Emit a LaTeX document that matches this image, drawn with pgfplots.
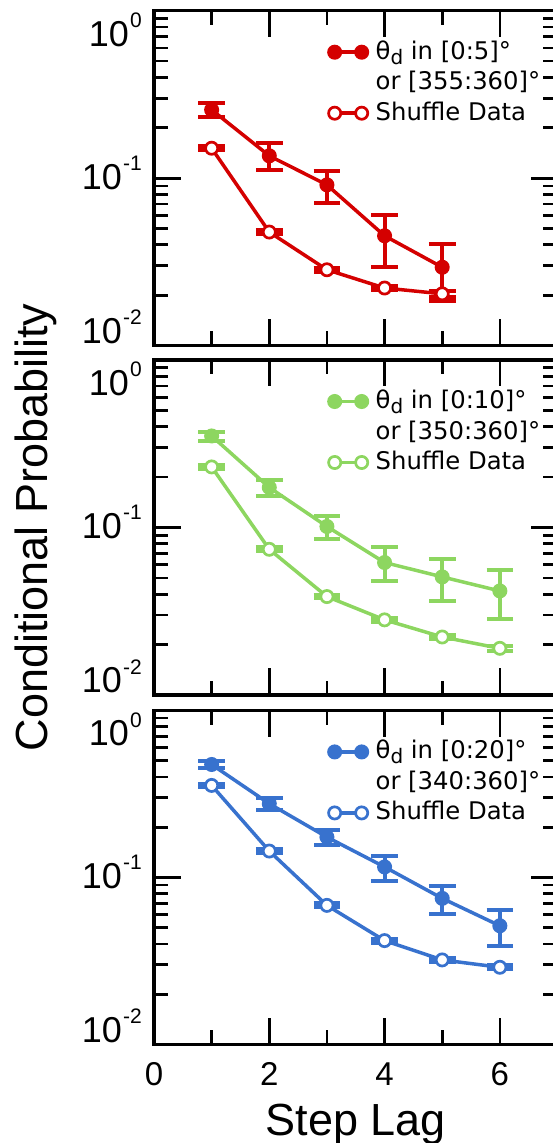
\documentclass[border=0pt]{standalone}
\usepackage{fontspec}
\setmainfont{Liberation Sans}
\newfontfamily\dejavu{DejaVu Sans}
\usepackage{pgfplots}
\pgfplotsset{compat=1.18}

\definecolor{cred}{RGB}{212,0,0}
\definecolor{cgreen}{RGB}{141,214,96}
\definecolor{cblue}{RGB}{56,114,206}

\newcommand{\tp}[1]{10\hspace{1.2bp}\raisebox{0.52em}{\fontsize{21bp}{21bp}\selectfont #1}}
\newcommand{\thd}{θ\raisebox{-0.2em}{\fontsize{20bp}{20bp}\selectfont d}}

\pgfplotsset{every axis/.append style={
    scale only axis, width=403.5bp,
    xmin=0, xmax=7, ymin=0.01, ymax=1,
    xtick={0,2,4,6}, minor xtick={1,3,5},
    ytick={0.1}, yticklabels={\tp{-1}},
    minor ytick={0.02,0.03,0.04,0.05,0.06,0.07,0.08,0.09,0.2,0.3,0.4,0.5,0.6,0.7,0.8,0.9},
    major tick length=26.7bp, minor tick length=14.3bp,
    tick style={black, line width=2.7bp},
    axis line style={line width=3.5bp},
    yticklabel style={anchor=base east, inner sep=0pt, xshift=-12bp, yshift=-11bp,
      font=\fontsize{36bp}{40bp}\selectfont},
    xticklabel style={anchor=north, inner sep=0pt, yshift=-17.7bp,
      font=\fontsize{33bp}{40bp}\selectfont},
    legend style={at={(0.4312,0.9125)}, anchor=north west,
      draw=none, fill=none, inner sep=0pt, row sep=6.5bp, column sep=7.5bp,
      font=\dejavu\fontsize{24.3bp}{28bp}\selectfont,
      nodes={inner sep=0pt, text height=19bp, text depth=5bp}},
    legend cell align=left,
    legend image code/.code={\draw[#1] plot coordinates {(0bp,0bp) (27bp,0bp)};},
}}

\begin{document}
\begin{tikzpicture}
% ---------- Panel 1 (red) ----------
\begin{semilogyaxis}[height=335bp, at={(0bp,698.8bp)}, anchor=south west, xticklabels={},
    extra y ticks={0.715,0.012}, extra y tick labels={\tp{0},\tp{-2}},
    extra y tick style={major tick length=0pt}]
\addplot[color=cred, line width=3.5bp, mark=*, mark size=6.5bp,
    mark options={solid, fill=cred, draw=cred, line width=2bp},
    error bars/.cd, y dir=both, y explicit,
    error bar style={line width=4bp, color=cred},
    error mark options={rotate=90, line width=4bp, mark size=13.3bp, color=cred}]
  table[x=x,y=y,y error plus=ep,y error minus=em] {
x y ep em
1 0.256 0.026 0.025
2 0.136 0.026 0.024
3 0.0912 0.0198 0.0197
4 0.0453 0.0148 0.0157
5 0.0294 0.0110 0.0108
};
\addlegendentry{\thd\ in [0:5]°}
\addlegendimage{empty legend}
\addlegendentry{or [355:360]°}
\addplot[color=cred, line width=3.5bp, mark=*, mark size=6.1bp,
    mark options={solid, fill=white, draw=cred, line width=2.7bp},
    error bars/.cd, y dir=both, y explicit,
    error bar style={line width=4bp, color=cred},
    error mark options={rotate=90, line width=4bp, mark size=13.3bp, color=cred}]
  table[x=x,y=y,y error plus=ep,y error minus=em] {
x y ep em
1 0.151 0.004 0.004
2 0.0477 0.0013 0.0013
3 0.0284 0.0008 0.0008
4 0.0221 0.0006 0.0006
5 0.0204 0.0008 0.0008
};
\addlegendentry{Shuffle Data}
\end{semilogyaxis}
% ---------- Panel 2 (green) ----------
\begin{semilogyaxis}[height=335bp, at={(0bp,349.5bp)}, anchor=south west, xticklabels={},
    extra y ticks={0.715,0.012}, extra y tick labels={\tp{0},\tp{-2}},
    extra y tick style={major tick length=0pt},
    ylabel={Conditional Probability},
    ylabel style={at={(-0.3445,0.5)}, anchor=north, inner sep=0pt,
      font=\fontsize{45bp}{50bp}\selectfont}]
\addplot[color=cgreen, line width=3.5bp, mark=*, mark size=6.5bp,
    mark options={solid, fill=cgreen, draw=cgreen, line width=2bp},
    error bars/.cd, y dir=both, y explicit,
    error bar style={line width=4bp, color=cgreen},
    error mark options={rotate=90, line width=4bp, mark size=13.3bp, color=cgreen}]
  table[x=x,y=y,y error plus=ep,y error minus=em] {
x y ep em
1 0.352 0.020 0.023
2 0.1734 0.0186 0.0189
3 0.1014 0.0156 0.0162
4 0.0618 0.0142 0.0138
5 0.0507 0.0146 0.0144
6 0.0418 0.0138 0.0134
};
\addlegendentry{\thd\ in [0:10]°}
\addlegendimage{empty legend}
\addlegendentry{or [350:360]°}
\addplot[color=cgreen, line width=3.5bp, mark=*, mark size=6.1bp,
    mark options={solid, fill=white, draw=cgreen, line width=2.7bp},
    error bars/.cd, y dir=both, y explicit,
    error bar style={line width=4bp, color=cgreen},
    error mark options={rotate=90, line width=4bp, mark size=13.3bp, color=cgreen}]
  table[x=x,y=y,y error plus=ep,y error minus=em] {
x y ep em
1 0.230 0.006 0.006
2 0.0741 0.002 0.002
3 0.0387 0.001 0.001
4 0.0281 0.0008 0.0008
5 0.0222 0.0006 0.0006
6 0.0190 0.0006 0.0006
};
\addlegendentry{Shuffle Data}
\end{semilogyaxis}
% ---------- Panel 3 (blue) ----------
\begin{semilogyaxis}[height=334bp, at={(0bp,0bp)}, anchor=south west, xticklabels={0,2,4,6},
    extra y ticks={0.715,0.012}, extra y tick labels={\tp{0},\tp{-2}},
    extra y tick style={major tick length=0pt},
    xlabel={Step Lag},
    xlabel style={at={(0.5,0)}, anchor=base, inner sep=0pt,
      yshift=-90.5bp, font=\fontsize{45bp}{50bp}\selectfont}]
\addplot[color=cblue, line width=3.5bp, mark=*, mark size=6.5bp,
    mark options={solid, fill=cblue, draw=cblue, line width=2bp},
    error bars/.cd, y dir=both, y explicit,
    error bar style={line width=4bp, color=cblue},
    error mark options={rotate=90, line width=4bp, mark size=13.3bp, color=cblue}]
  table[x=x,y=y,y error plus=ep,y error minus=em] {
x y ep em
1 0.475 0.022 0.021
2 0.2767 0.0239 0.022
3 0.1746 0.019 0.0186
4 0.1157 0.0182 0.0202
5 0.075 0.0141 0.0149
6 0.0514 0.0124 0.0123
};
\addlegendentry{\thd\ in [0:20]°}
\addlegendimage{empty legend}
\addlegendentry{or [340:360]°}
\addplot[color=cblue, line width=3.5bp, mark=*, mark size=6.1bp,
    mark options={solid, fill=white, draw=cblue, line width=2.7bp},
    error bars/.cd, y dir=both, y explicit,
    error bar style={line width=4bp, color=cblue},
    error mark options={rotate=90, line width=4bp, mark size=13.3bp, color=cblue}]
  table[x=x,y=y,y error plus=ep,y error minus=em] {
x y ep em
1 0.356 0.009 0.009
2 0.144 0.004 0.004
3 0.0681 0.0018 0.0018
4 0.0419 0.0011 0.0011
5 0.0321 0.0009 0.0009
6 0.0290 0.0008 0.0008
};
\addlegendentry{Shuffle Data}
\end{semilogyaxis}
\pgfresetboundingbox
\path (-154bp,-98.5bp) rectangle (399bp,1044.5bp);
\end{tikzpicture}
\end{document}
